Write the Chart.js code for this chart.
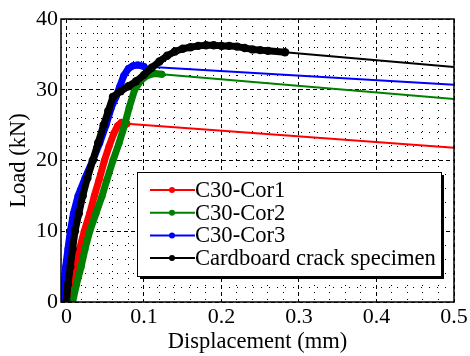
<!DOCTYPE html>
<html>
<head>
<meta charset="utf-8">
<script src="https://cdn.jsdelivr.net/npm/chart.js@4.4.0/dist/chart.umd.min.js"></script>
<style>
html, body { margin: 0; padding: 0; background: #fff; }
#wrap { width: 470px; height: 356px; }
</style>
</head>
<body>
<div id="wrap"><canvas id="grafico"></canvas></div>
<script>
// valores
const series = ["C30-Cor1", "C30-Cor2", "C30-Cor3", "Cardboard crack specimen"];
const colores = ["#ff0000", "#008000", "#0000ff", "#000000"];

const cor1X = [0.004, 0.008, 0.012, 0.017, 0.023, 0.030, 0.036, 0.042, 0.049, 0.055, 0.061, 0.066, 0.071, 0.078, 0.5];
const cor1Y = [0, 2.5, 5, 7.5, 10, 12.5, 15, 17.2, 20, 22, 23.8, 24.9, 25.4, 25.2, 21.8];

const cor2X = [0.008, 0.013, 0.019, 0.024, 0.030, 0.038, 0.046, 0.052, 0.060, 0.068, 0.075, 0.081, 0.088, 0.096, 0.104, 0.114, 0.123, 0.5];
const cor2Y = [0, 2.5, 5, 7.5, 10, 12.5, 15, 17.2, 20, 22.5, 25, 27.5, 30, 31.3, 32, 32.3, 32.2, 28.7];

const cor3X = [-0.005, -0.003, -0.001, 0.002, 0.005, 0.009, 0.015, 0.024, 0.034, 0.043, 0.051, 0.058, 0.064, 0.069, 0.074, 0.080, 0.086, 0.092, 0.100, 0.5];
const cor3Y = [0, 2.5, 5, 7.5, 10, 12.5, 15, 17.5, 20, 22.5, 25, 27.5, 29, 30.5, 32, 33, 33.4, 33.5, 33.3, 30.7];

const cartonX = [0.000, 0.002, 0.005, 0.008, 0.011, 0.016, 0.021, 0.027, 0.034, 0.041, 0.048, 0.054, 0.060, 0.070, 0.080, 0.090, 0.100, 0.110, 0.120, 0.130, 0.140, 0.150, 0.160, 0.170, 0.180, 0.190, 0.200, 0.210, 0.220, 0.230, 0.240, 0.250, 0.260, 0.282, 0.5];
const cartonY = [0, 2.5, 5, 7.5, 10, 12.5, 15, 17.5, 20, 22.5, 25, 27, 29, 29.8, 30.5, 31.2, 32.1, 33.1, 34.0, 34.8, 35.4, 35.8, 36.0, 36.2, 36.3, 36.3, 36.2, 36.2, 36.1, 35.9, 35.7, 35.6, 35.5, 35.3, 33.2];

const xTicks = [0, 0.1, 0.2, 0.3, 0.4, 0.5];
const xLabels = ["0", "0.1", "0.2", "0.3", "0.4", "0.5"];
const yTicks = [0, 10, 20, 30, 40];
const yLabels = ["0", "10", "20", "30", "40"];

const fuente = "'Liberation Serif', 'Times New Roman', serif";

function puntos(xs, ys) {
    return xs.map((x, i) => ({ x: x, y: ys[i] }));
}

function crearSerie(i, xs, ys, orden, radio) {
    let n = xs.length;
    return {
        label: series[i],
        data: puntos(xs, ys),
        borderColor: colores[i],
        backgroundColor: colores[i],
        pointBackgroundColor: colores[i],
        pointBorderWidth: 0,
        pointRadius: xs.map((x, k) => k === n - 1 ? 0 : radio),
        borderCapStyle: "round",
        borderJoinStyle: "round",
        order: orden,
        segment: {
            borderWidth: ctx => ctx.p1DataIndex === n - 1 ? 2 : 7
        }
    };
}

// leyenda dentro del grafico y marco
const leyendaPlugin = {
    id: "leyenda",
    afterDraw(chart) {
        let ctx = chart.ctx;
        let a = chart.chartArea;
        ctx.save();
        ctx.strokeStyle = "#000";
        ctx.lineWidth = 1.5;
        ctx.strokeRect(a.left, a.top, a.right - a.left, a.bottom - a.top);

        let bx = 137, by = 172, bw = 304, bh = 104;
        ctx.fillStyle = "#000";
        ctx.fillRect(bx + 3, by + 3, bw, bh);
        ctx.fillStyle = "#fff";
        ctx.fillRect(bx, by, bw, bh);
        ctx.lineWidth = 1;
        ctx.strokeRect(bx + 0.5, by + 0.5, bw, bh);

        ctx.font = "22.6px " + fuente;
        ctx.textBaseline = "middle";
        ctx.textAlign = "left";
        series.forEach((s, i) => {
            let y = 190 + i * 22.7;
            ctx.strokeStyle = colores[i];
            ctx.lineWidth = 2;
            ctx.beginPath();
            ctx.moveTo(150, y);
            ctx.lineTo(195, y);
            ctx.stroke();
            ctx.fillStyle = colores[i];
            ctx.beginPath();
            ctx.arc(172, y, 3, 0, Math.PI * 2);
            ctx.fill();
            ctx.fillStyle = "#000";
            ctx.fillText(s, 195, y + 1);
        });
        ctx.restore();
    }
};

let ctxGrafico = document.getElementById("grafico").getContext("2d");
new Chart(ctxGrafico, {
    type: "line",
    data: {
        datasets: [
            crearSerie(0, cor1X, cor1Y, 3, 3.5),
            crearSerie(1, cor2X, cor2Y, 2, 3.5),
            crearSerie(2, cor3X, cor3Y, 1, 3.5),
            crearSerie(3, cartonX, cartonY, 0, 4.2)
        ]
    },
    options: {
        responsive: true,
        maintainAspectRatio: false,
        animation: false,
        layout: { padding: { left: 0, right: 16, top: 19, bottom: 0 } },
        plugins: { legend: { display: false }, tooltip: { enabled: false } },
        scales: {
            x2: {
                type: "linear", position: "bottom", min: -0.007, max: 0.5,
                afterBuildTicks: s => {
                    let t = [];
                    for (let i = 1; i < 25; i++) if (i % 5) t.push({ value: i * 0.02 });
                    s.ticks = t;
                },
                afterFit: s => { s.height = 0; },
                ticks: { display: false },
                grid: { color: "#000", lineWidth: 1, drawTicks: false },
                border: { display: false, dash: [1, 6] }
            },
            y2: {
                type: "linear", position: "left", min: 0, max: 40,
                afterBuildTicks: s => {
                    let t = [];
                    for (let i = 1; i < 20; i++) if (i % 5) t.push({ value: i * 2 });
                    s.ticks = t;
                },
                afterFit: s => { s.width = 0; },
                ticks: { display: false },
                grid: { color: "#000", lineWidth: 1, drawTicks: false },
                border: { display: false, dash: [1, 7] }
            },
            x: {
                type: "linear", position: "bottom", min: -0.007, max: 0.5,
                afterBuildTicks: s => { s.ticks = xTicks.map(v => ({ value: v })); },
                afterFit: s => { s.height = 54; },
                ticks: {
                    color: "#000", padding: 2, maxRotation: 0,
                    font: { family: fuente, size: 22 },
                    callback: v => xLabels[xTicks.indexOf(v)]
                },
                grid: { color: "#000", lineWidth: 1, drawTicks: false },
                border: { display: false, dash: [4, 3] },
                title: {
                    display: true, text: "Displacement (mm)", color: "#000",
                    font: { family: fuente, size: 22.5 }, padding: { top: 0, bottom: 0 }
                }
            },
            y: {
                type: "linear", position: "left", min: 0, max: 40,
                afterBuildTicks: s => { s.ticks = yTicks.map(v => ({ value: v })); },
                afterFit: s => { s.width = 61; },
                ticks: {
                    color: "#000", padding: 3,
                    font: { family: fuente, size: 22 },
                    callback: v => yLabels[yTicks.indexOf(v)]
                },
                grid: { color: "#000", lineWidth: 1, drawTicks: false },
                border: { display: false, dash: [4, 3] },
                title: {
                    display: true, text: "Load (kN)", color: "#000",
                    font: { family: fuente, size: 22.5 }, padding: { top: 6, bottom: 0 }
                }
            }
        }
    },
    plugins: [leyendaPlugin]
});
</script>
</body>
</html>
